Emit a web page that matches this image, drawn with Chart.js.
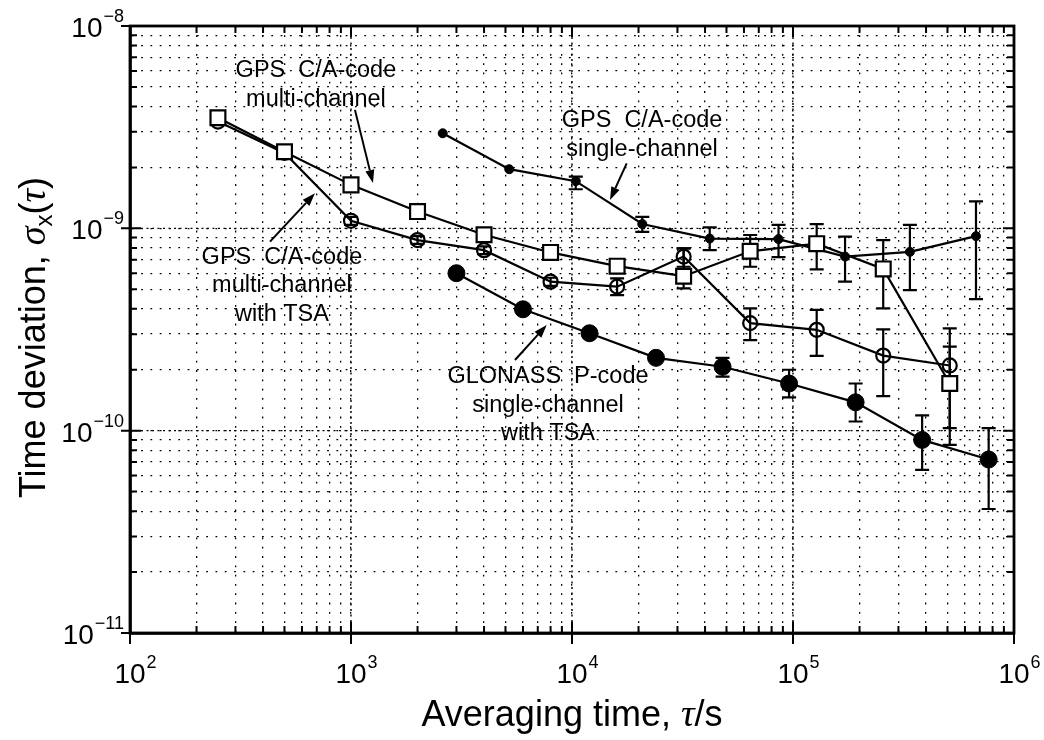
<!DOCTYPE html>
<html>
<head>
<meta charset="utf-8">
<script src="https://cdn.jsdelivr.net/npm/chart.js@4/dist/chart.umd.min.js"></script>
<style>
  html, body { margin: 0; padding: 0; background: #fff; }
  #wrap { width: 1044px; height: 740px; }
</style>
</head>
<body>
<div id="wrap"><canvas id="tdev" width="1044" height="740"></canvas></div>
<script>
// averaging times (s)
const tauMulti = [250, 500, 1000, 2000, 4000, 8000, 16000, 32000, 64000, 128000, 256000, 512000];
const tauSingle = [2600, 5200, 10400, 20800, 42000, 86000, 172000, 338000, 673000];
const tauGlonass = [3000, 6000, 12000, 24000, 48000, 96000, 192000, 384000, 768000];

// GPS C/A-code multi-channel (open squares)
const multiCh = [3.52e-9, 2.39e-9, 1.64e-9, 1.21e-9, 9.3e-10, 7.6e-10, 6.5e-10, 5.8e-10, 7.7e-10, 8.4e-10, 6.3e-10, 1.71e-10];
const multiChHi = [null, null, null, null, null, null, null, 7.96e-10, 9.27e-10, 1.05e-9, 8.75e-10, 3.2e-10];
const multiChLo = [null, null, null, null, null, null, null, 5.05e-10, 6.46e-10, 6.27e-10, 4.02e-10, 8.5e-11];

// GPS C/A-code multi-channel with TSA (open circles)
const multiTsa = [3.37e-9, 2.36e-9, 1.09e-9, 8.75e-10, 7.8e-10, 5.45e-10, 5.15e-10, 7.25e-10, 3.4e-10, 3.15e-10, 2.35e-10, 2.1e-10];
const multiTsaHi = [null, null, 1.14e-9, 9.15e-10, 8.15e-10, 5.7e-10, 5.66e-10, 7.96e-10, 4.02e-10, 3.95e-10, 3.17e-10, 2.6e-10];
const multiTsaLo = [null, null, 1.04e-9, 8.37e-10, 7.45e-10, 5.2e-10, 4.68e-10, 6.46e-10, 2.8e-10, 2.34e-10, 1.48e-10, 1.03e-10];

// GPS C/A-code single-channel (small dots)
const single = [2.95e-9, 1.96e-9, 1.71e-9, 1.05e-9, 8.9e-10, 8.85e-10, 7.25e-10, 7.65e-10, 9.15e-10];
const singleHi = [null, null, 1.8e-9, 1.14e-9, 1.01e-9, 1.04e-9, 9.1e-10, 1.04e-9, 1.36e-9];
const singleLo = [null, null, 1.56e-9, 9.6e-10, 7.8e-10, 7.2e-10, 5.45e-10, 4.95e-10, 4.47e-10];

// GLONASS P-code single-channel with TSA (big dots)
const glonass = [6.0e-10, 3.98e-10, 3.03e-10, 2.29e-10, 2.07e-10, 1.71e-10, 1.38e-10, 9.0e-11, 7.2e-11];
const glonassHi = [null, null, null, null, 2.29e-10, 2.0e-10, 1.71e-10, 1.19e-10, 1.03e-10];
const glonassLo = [null, null, null, null, 1.85e-10, 1.46e-10, 1.11e-10, 6.4e-11, 4.1e-11];

// axis ticks (decade exponents)
const xTickExps = [2, 3, 4, 5, 6];
const yTickExps = [-11, -10, -9, -8];

// labels with arrows, in data units
const notes = [
  { lines: ["GPS  C/A-code", "multi-channel"], at: [694, 5.11e-9], from: [1042, 3.85e-9], to: [1257, 1.675e-9] },
  { lines: ["GPS  C/A-code", "single-channel"], at: [20740, 2.89e-9], from: [17680, 2.096e-9], to: [14860, 1.38e-9] },
  { lines: ["GPS  C/A-code", "multi-channel", "with TSA"], at: [487, 5.19e-10], from: [430, 8.59e-10], to: [687, 1.49e-9] },
  { lines: ["GLONASS  P-code", "single-channel", "with TSA"], at: [7788, 1.338e-10], from: [5521, 2.234e-10], to: [7683, 3.327e-10] }
];

const SANS = '"Liberation Sans", Arial, Helvetica, sans-serif';
const SERIF = '"Liberation Serif", "Times New Roman", serif';

function pts(xs, ys) { return xs.map((x, i) => ({ x: x, y: ys[i] })); }

function logGrid(lo, hi) {
  const out = [];
  for (let e = lo; e < hi; e++) {
    for (let m = 1; m <= 9; m++) out.push(m * Math.pow(10, e));
  }
  out.push(Math.pow(10, hi));
  return out;
}
function isDecade(v) {
  const l = Math.log10(v);
  return Math.abs(l - Math.round(l)) < 1e-9;
}

const errSets = [
  { x: tauMulti, hi: multiChHi, lo: multiChLo },
  { x: tauMulti, hi: multiTsaHi, lo: multiTsaLo },
  { x: tauSingle, hi: singleHi, lo: singleLo },
  { x: tauGlonass, hi: glonassHi, lo: glonassLo }
];

const errorBars = {
  id: 'errorBars',
  beforeDatasetsDraw(chart) {
    const { ctx, scales: { x, y } } = chart;
    ctx.save();
    // denser dots on decade grid lines
    ctx.strokeStyle = '#000';
    ctx.lineWidth = 1.4;
    ctx.setLineDash([2, 3.5]);
    const a = chart.chartArea;
    x.ticks.forEach(t => {
      if (!isDecade(t.value)) return;
      const px = x.getPixelForValue(t.value);
      ctx.beginPath(); ctx.moveTo(px, a.top); ctx.lineTo(px, a.bottom); ctx.stroke();
    });
    y.ticks.forEach(t => {
      if (!isDecade(t.value)) return;
      const py = y.getPixelForValue(t.value);
      ctx.beginPath(); ctx.moveTo(a.left, py); ctx.lineTo(a.right, py); ctx.stroke();
    });
    ctx.setLineDash([]);
    ctx.lineWidth = 2.2;
    errSets.forEach(s => {
      s.x.forEach((tv, i) => {
        if (s.hi[i] == null) return;
        const px = x.getPixelForValue(tv);
        const p1 = y.getPixelForValue(s.hi[i]);
        const p2 = y.getPixelForValue(s.lo[i]);
        ctx.beginPath();
        ctx.moveTo(px, p1); ctx.lineTo(px, p2);
        ctx.moveTo(px - 7, p1); ctx.lineTo(px + 7, p1);
        ctx.moveTo(px - 7, p2); ctx.lineTo(px + 7, p2);
        ctx.stroke();
      });
    });
    ctx.restore();
  }
};

function drawArrow(ctx, x1, y1, x2, y2) {
  const ang = Math.atan2(y2 - y1, x2 - x1);
  const L = 13, W = 4.5;
  ctx.beginPath();
  ctx.moveTo(x1, y1);
  ctx.lineTo(x2 - L * Math.cos(ang), y2 - L * Math.sin(ang));
  ctx.stroke();
  ctx.beginPath();
  ctx.moveTo(x2, y2);
  ctx.lineTo(x2 - L * Math.cos(ang) + W * Math.sin(ang), y2 - L * Math.sin(ang) - W * Math.cos(ang));
  ctx.lineTo(x2 - L * Math.cos(ang) - W * Math.sin(ang), y2 - L * Math.sin(ang) + W * Math.cos(ang));
  ctx.closePath();
  ctx.fill();
}

function drawPieces(ctx, pieces, x, y) {
  let cx = x;
  pieces.forEach(p => {
    ctx.font = p.font;
    ctx.fillText(p.t, cx, y + (p.dy || 0));
    cx += ctx.measureText(p.t).width + (p.gap || 0);
  });
  return cx - x;
}
function piecesWidth(ctx, pieces) {
  let w = 0;
  pieces.forEach(p => { ctx.font = p.font; w += ctx.measureText(p.t).width + (p.gap || 0); });
  return w;
}

const decorations = {
  id: 'decorations',
  afterDraw(chart) {
    const { ctx, scales: { x, y } } = chart;
    const a = chart.chartArea;
    ctx.save();
    ctx.fillStyle = '#000';
    ctx.strokeStyle = '#000';

    // frame
    ctx.lineWidth = 2.8;
    ctx.strokeRect(a.left, a.top, a.right - a.left, a.bottom - a.top);

    // inward ticks on all four sides
    ctx.lineWidth = 2;
    x.ticks.forEach(t => {
      const px = x.getPixelForValue(t.value);
      const big = isDecade(t.value);
      const len = big ? 11 : 7;
      ctx.beginPath();
      ctx.moveTo(px, a.bottom + (big ? 11 : 0)); ctx.lineTo(px, a.bottom - len);
      ctx.moveTo(px, a.top); ctx.lineTo(px, a.top + len);
      ctx.stroke();
    });
    y.ticks.forEach(t => {
      const py = y.getPixelForValue(t.value);
      const big = isDecade(t.value);
      const len = big ? 11 : 7;
      ctx.beginPath();
      ctx.moveTo(a.left - (big ? 9 : 0), py); ctx.lineTo(a.left + len, py);
      ctx.moveTo(a.right, py); ctx.lineTo(a.right - len, py);
      ctx.stroke();
    });

    // tick labels 10^n
    const base = '28px ' + SANS;
    const sup = '18px ' + SANS;
    ctx.textBaseline = 'alphabetic';
    ctx.textAlign = 'left';
    xTickExps.forEach(e => {
      const px = x.getPixelForValue(Math.pow(10, e));
      ctx.font = base;
      const w10 = ctx.measureText('10').width;
      ctx.fillText('10', px - w10 / 2, a.bottom + 50);
      ctx.font = sup;
      ctx.fillText(String(e), px + w10 / 2 + 1, a.bottom + 35);
    });
    yTickExps.forEach(e => {
      const py = y.getPixelForValue(Math.pow(10, e));
      const ex = '\u2212' + String(-e);
      ctx.font = sup;
      const we = ctx.measureText(ex).width;
      ctx.font = base;
      const w10 = ctx.measureText('10').width;
      const right = a.left - 6;
      ctx.fillText('10', right - we - 1 - w10, py + 11);
      ctx.font = sup;
      ctx.fillText(ex, right - we, py - 4);
    });

    // x title
    const xt = [
      { t: 'Averaging time, ', font: '36px ' + SANS },
      { t: '\u03c4', font: 'italic 38px ' + SERIF },
      { t: '/s', font: '36px ' + SANS }
    ];
    const xw = piecesWidth(ctx, xt);
    drawPieces(ctx, xt, (a.left + a.right) / 2 - xw / 2, 726);

    // y title (rotated)
    const yt = [
      { t: 'Time deviation, ', font: '36px ' + SANS },
      { t: '\u03c3', font: 'italic 38px ' + SERIF },
      { t: 'x', font: '24px ' + SANS, dy: 7 },
      { t: '(', font: '36px ' + SANS },
      { t: '\u03c4', font: 'italic 38px ' + SERIF },
      { t: ')', font: '36px ' + SANS }
    ];
    const yw = piecesWidth(ctx, yt);
    ctx.save();
    ctx.translate(45, (a.top + a.bottom) / 2 + 8);
    ctx.rotate(-Math.PI / 2);
    drawPieces(ctx, yt, -yw / 2, 0);
    ctx.restore();

    // annotations
    ctx.font = '23.5px ' + SANS;
    ctx.textAlign = 'center';
    ctx.textBaseline = 'middle';
    ctx.lineWidth = 2;
    notes.forEach(n => {
      const cx = x.getPixelForValue(n.at[0]);
      const cy = y.getPixelForValue(n.at[1]);
      const lh = 28.5;
      const top = cy - (n.lines.length - 1) * lh / 2;
      n.lines.forEach((s, i) => ctx.fillText(s, cx, top + i * lh));
      drawArrow(ctx,
        x.getPixelForValue(n.from[0]), y.getPixelForValue(n.from[1]),
        x.getPixelForValue(n.to[0]), y.getPixelForValue(n.to[1]));
    });
    ctx.restore();
  }
};

const lineStyle = { showLine: true, borderColor: '#000', borderWidth: 2.2, tension: 0, pointBorderColor: '#000' };

const chart = new Chart(document.getElementById('tdev'), {
  type: 'scatter',
  data: {
    datasets: [
      Object.assign({ label: 'GPS C/A-code multi-channel', data: pts(tauMulti, multiCh),
        pointStyle: 'rect', pointRadius: 10.5, pointBackgroundColor: '#fff', pointBorderWidth: 2.2 }, lineStyle),
      Object.assign({ label: 'GPS C/A-code multi-channel with TSA', data: pts(tauMulti, multiTsa),
        pointStyle: 'circle', pointRadius: 7, pointBackgroundColor: 'rgba(255,255,255,0)', pointBorderWidth: 2.2 }, lineStyle),
      Object.assign({ label: 'GPS C/A-code single-channel', data: pts(tauSingle, single),
        pointStyle: 'circle', pointRadius: 4.5, pointBackgroundColor: '#000', pointBorderWidth: 1 }, lineStyle),
      Object.assign({ label: 'GLONASS P-code single-channel with TSA', data: pts(tauGlonass, glonass),
        pointStyle: 'circle', pointRadius: 8.5, pointBackgroundColor: '#000', pointBorderWidth: 1 }, lineStyle)
    ]
  },
  options: {
    responsive: false,
    animation: false,
    layout: { padding: { left: 130, top: 26, right: 30, bottom: 107 } },
    plugins: { legend: { display: false }, tooltip: { enabled: false } },
    scales: {
      x: {
        type: 'logarithmic', min: 1e2, max: 1e6,
        afterBuildTicks: s => { s.ticks = logGrid(xTickExps[0], xTickExps[xTickExps.length - 1]).map(v => ({ value: v })); },
        ticks: { display: false },
        grid: { color: '#000', lineWidth: 1.3, drawTicks: false },
        border: { display: true, color: '#000', width: 2.8, dash: [1.8, 7.5] }
      },
      y: {
        type: 'logarithmic', min: 1e-11, max: 1e-8,
        afterBuildTicks: s => { s.ticks = logGrid(yTickExps[0], yTickExps[yTickExps.length - 1]).map(v => ({ value: v })); },
        ticks: { display: false },
        grid: { color: '#000', lineWidth: 1.3, drawTicks: false },
        border: { display: true, color: '#000', width: 2.8, dash: [1.8, 7.5] }
      }
    }
  },
  plugins: [errorBars, decorations]
});
</script>
</body>
</html>
